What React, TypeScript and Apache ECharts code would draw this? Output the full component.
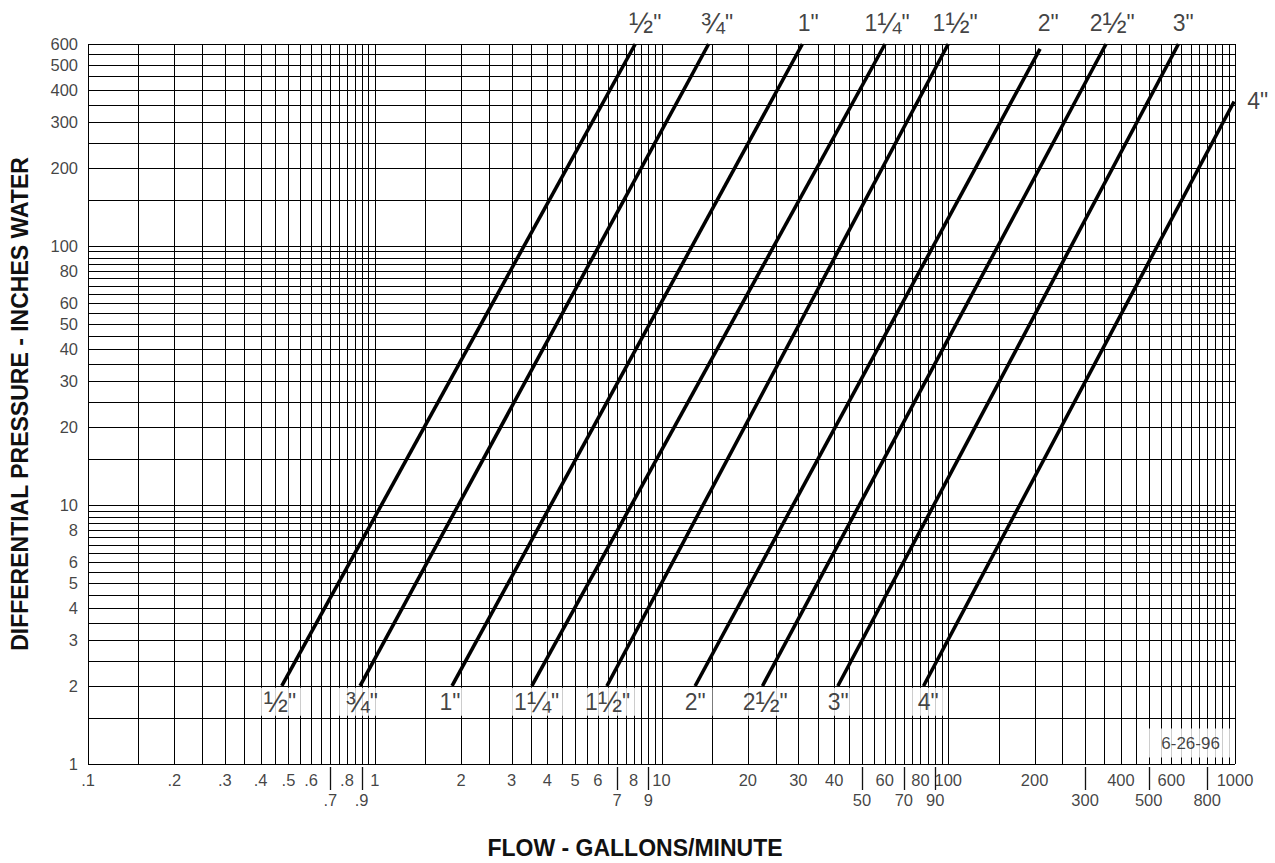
import React, { useEffect, useRef } from 'react';
import * as echarts from 'echarts';

// ---------- data ----------
const sizes = ['½"', '¾"', '1"', '1¼"', '1½"', '2"', '2½"', '3"', '4"'];
// each curve: flow (GPM) at its start (2 in. water) and at its top end
const startFlow = [0.474, 0.889, 1.86, 3.53, 6.45, 13.1, 22.5, 41.2, 82];
const startPressure = [2, 2, 2, 2, 2, 2, 2, 2, 2];
const endFlow = [8.1, 14.6, 31.0, 60.2, 100, 209, 355, 635, 993];
const endPressure = [600, 600, 600, 600, 600, 575, 600, 600, 360];

const topLabelFlow = [8.77, 15.6, 32.5, 61.2, 105.7, 223, 373, 660];
const bottomLabelFlow = [0.467, 0.9, 1.83, 3.67, 6.49, 13.1, 23.0, 41.3, 85.1];
const bottomLabelPressure = 1.74;

const xLabelsRow1 = [0.1, 0.2, 0.3, 0.4, 0.5, 0.6, 0.8, 1, 2, 3, 4, 5, 6, 8, 10, 20, 30, 40, 60, 80, 100, 200, 400, 600, 1000];
const xLabelsRow2 = [0.7, 0.9, 7, 9, 50, 70, 90, 300, 500, 800];
const yLabels = [1, 2, 3, 4, 5, 6, 8, 10, 20, 30, 40, 50, 60, 80, 100, 200, 300, 400, 500, 600];

const gridMantissas = [1, 1.5, 2, 2.5, 3, 3.5, 4, 4.5, 5, 5.5, 6, 6.5, 7, 7.5, 8, 8.5, 9, 9.5];
const xDecades = [0.1, 1, 10, 100];
const yDecades = [1, 10, 100];

const X_MIN = 0.1, X_MAX = 1000, Y_MIN = 1, Y_MAX = 600;
const dateStamp = '6-26-96';
const dateStampPos = [700, 1.205];

const FONT = '"Liberation Sans", Arial, Helvetica, sans-serif';
const INK = '#111';
const GRID = '#000';

const fmt = (v: number) => (v < 1 ? String(v).slice(1) : String(v));
const richFrac = (s: string) => s.replace(/([½¼¾])/g, '{f|$1}');

const xGrid: number[] = [];
xDecades.forEach((d) => gridMantissas.forEach((m) => xGrid.push(+(m * d).toPrecision(6))));
xGrid.push(X_MAX);
const yGrid: number[] = [];
yDecades.forEach((d) => gridMantissas.forEach((m) => {
  const v = +(m * d).toPrecision(6);
  if (v <= Y_MAX) yGrid.push(v);
}));

function buildOption() {
  const crisp = (n: number) => Math.round(n) + 0.5;

  const vGridSeries = {
    type: 'custom',
    silent: true,
    z: 1,
    clip: false,
    data: xGrid.map((v) => [v, Y_MIN]),
    encode: { x: 0, y: 1 },
    renderItem: (_p: any, api: any) => {
      const v = api.value(0);
      const a = api.coord([v, Y_MIN]);
      const b = api.coord([v, Y_MAX]);
      const x = crisp(a[0]);
      return { type: 'line', shape: { x1: x, y1: a[1], x2: x, y2: b[1] }, style: { stroke: GRID, lineWidth: 1 } };
    },
  };
  const hGridSeries = {
    type: 'custom',
    silent: true,
    z: 1,
    clip: false,
    data: yGrid.map((v) => [X_MIN, v]),
    encode: { x: 0, y: 1 },
    renderItem: (_p: any, api: any) => {
      const v = api.value(1);
      const a = api.coord([X_MIN, v]);
      const b = api.coord([X_MAX, v]);
      const y = crisp(a[1]);
      return { type: 'line', shape: { x1: a[0], y1: y, x2: b[0], y2: y }, style: { stroke: GRID, lineWidth: 1 } };
    },
  };
  const row2Ticks = {
    type: 'custom',
    silent: true,
    z: 1,
    clip: false,
    data: xLabelsRow2.map((v) => [v, Y_MIN]),
    encode: { x: 0, y: 1 },
    renderItem: (_p: any, api: any) => {
      const a = api.coord([api.value(0), Y_MIN]);
      const x = crisp(a[0]);
      return { type: 'line', shape: { x1: x, y1: a[1] + 3, x2: x, y2: a[1] + 26 }, style: { stroke: INK, lineWidth: 1.3 } };
    },
  };

  const curves = sizes.map((name, i) => ({
    type: 'line',
    name,
    z: 3,
    clip: false,
    silent: true,
    symbol: 'none',
    showSymbol: false,
    lineStyle: { color: '#000', width: 3.6 },
    data: [
      [startFlow[i], startPressure[i]],
      [endFlow[i], endPressure[i]],
    ],
  }));

  const textBase = { fontFamily: FONT, color: INK };
  const fracRich = { f: { fontFamily: FONT, color: INK, fontSize: 29 } };

  const xRow1 = {
    type: 'scatter', z: 5, silent: true, clip: false, symbolSize: 0,
    data: xLabelsRow1.map((v) => [v, Y_MIN]),
    label: { show: true, position: 'bottom', distance: 7, ...textBase, fontSize: 16.5, formatter: (p: any) => fmt(p.value[0]) },
  };
  const xRow2 = {
    type: 'scatter', z: 5, silent: true, clip: false, symbolSize: 0,
    data: xLabelsRow2.map((v) => [v, Y_MIN]),
    label: { show: true, position: 'bottom', distance: 27, ...textBase, fontSize: 16.5, formatter: (p: any) => fmt(p.value[0]) },
  };
  const yLab = {
    type: 'scatter', z: 5, silent: true, clip: false, symbolSize: 0,
    data: yLabels.map((v) => [X_MIN, v]),
    label: { show: true, position: 'left', distance: 10, ...textBase, fontSize: 16.5, formatter: (p: any) => fmt(p.value[1]) },
  };
  const topLabels = {
    type: 'scatter', z: 5, silent: true, clip: false, symbolSize: 0,
    data: topLabelFlow.map((v, i) => ({ name: sizes[i], value: [v, Y_MAX] })),
    label: {
      show: true, position: 'top', distance: 8, ...textBase, fontSize: 23, lineHeight: 26,
      formatter: (p: any) => richFrac(p.name), rich: fracRich,
    },
  };
  const sideLabel = {
    type: 'scatter', z: 5, silent: true, clip: false, symbolSize: 0,
    data: [{ name: sizes[8], value: [endFlow[8], endPressure[8]] }],
    label: { show: true, position: 'right', distance: 13, ...textBase, fontSize: 23, formatter: '{b}' },
  };
  const bottomLabels = {
    type: 'scatter', z: 6, silent: true, clip: false, symbolSize: 0,
    data: bottomLabelFlow.map((v, i) => ({ name: sizes[i], value: [v, bottomLabelPressure] })),
    label: {
      show: true, position: 'inside', ...textBase, fontSize: 23, lineHeight: 22,
      backgroundColor: '#fff', padding: [3, 7, 3, 7],
      formatter: (p: any) => richFrac(p.name), rich: { f: { ...fracRich.f, lineHeight: 22 } },
    },
  };
  const stamp = {
    type: 'scatter', z: 6, silent: true, clip: false, symbolSize: 0,
    data: [{ name: dateStamp, value: dateStampPos }],
    label: {
      show: true, position: 'inside', ...textBase, fontSize: 17, lineHeight: 17,
      backgroundColor: '#fff', padding: [6, 14, 6, 14], formatter: '{b}',
    },
  };

  const axisOff = {
    axisLine: { show: false }, axisTick: { show: false }, axisLabel: { show: false }, splitLine: { show: false },
  };

  return {
    animation: false,
    backgroundColor: '#fff',
    grid: { left: 88, right: 40, top: 44, bottom: 99, containLabel: false },
    xAxis: { type: 'log', logBase: 10, min: X_MIN, max: X_MAX, ...axisOff },
    yAxis: { type: 'log', logBase: 10, min: Y_MIN, max: Y_MAX, ...axisOff },
    graphic: [
      {
        type: 'text', x: 635, y: 848, silent: true,
        style: { text: 'FLOW - GALLONS/MINUTE', fontFamily: FONT, fontSize: 23, fontWeight: 'bold', fill: INK, align: 'center', verticalAlign: 'middle' },
      },
      {
        type: 'text', x: 20, y: 404, rotation: Math.PI / 2, silent: true,
        style: { text: 'DIFFERENTIAL PRESSURE - INCHES WATER', fontFamily: FONT, fontSize: 23, fontWeight: 'bold', fill: INK, align: 'center', verticalAlign: 'middle' },
      },
    ],
    series: [vGridSeries, hGridSeries, row2Ticks, ...curves, xRow1, xRow2, yLab, topLabels, sideLabel, bottomLabels, stamp],
  };
}

export default function App() {
  const ref = useRef<HTMLDivElement>(null);
  useEffect(() => {
    if (!ref.current) return;
    const chart = echarts.init(ref.current, null, { renderer: 'svg' });
    chart.setOption(buildOption() as any);
    return () => chart.dispose();
  }, []);
  return (
    <div
      ref={ref}
      style={{ position: 'fixed', left: 0, top: 0, width: 1275, height: 863, background: '#fff' }}
    />
  );
}
